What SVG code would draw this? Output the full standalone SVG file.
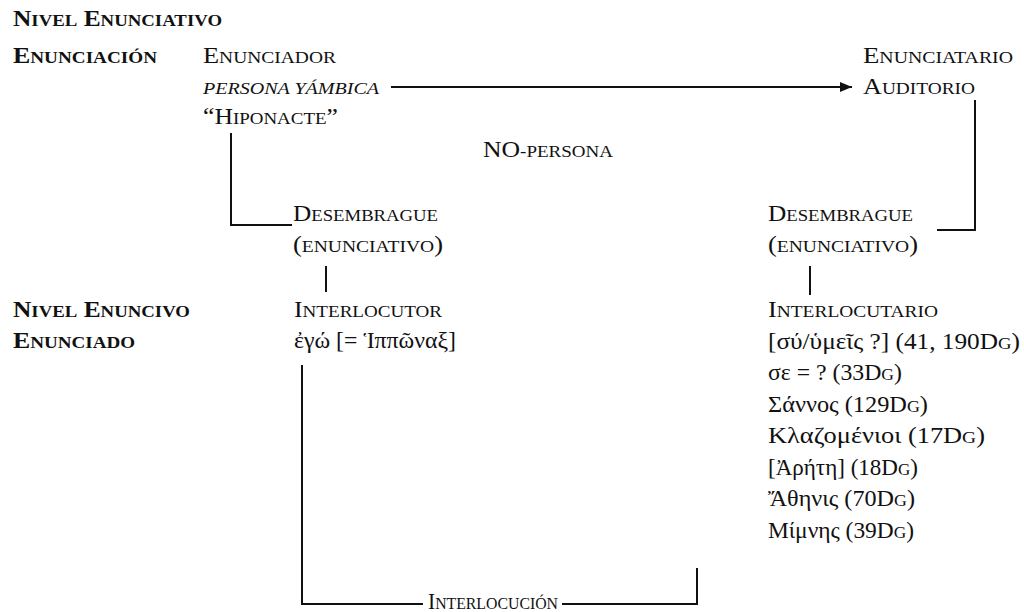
<svg xmlns="http://www.w3.org/2000/svg" width="1024" height="612" viewBox="0 0 1024 612">
  <style>
    text { font-family: "Liberation Serif", "DejaVu Serif", serif; font-size: 23px; fill: #111; }
    .b { font-weight: bold; }
    .sc { font-size: 17px; }
    .it { font-style: italic; }
    .ln { fill: none; stroke: #111; stroke-width: 2; }
  </style>
  <defs>
    <marker id="head" viewBox="0 0 12 10" refX="12" refY="5" markerWidth="12" markerHeight="10" markerUnits="userSpaceOnUse" orient="auto">
      <path d="M0,0 L12,5 L0,10 Z" fill="#111"/>
    </marker>
  </defs>
  <rect width="1024" height="612" fill="#fff"/>

  <!-- connectors -->
  <g id="connectors">
    <path class="ln" d="M391,87 H852" marker-end="url(#head)"/>
    <path class="ln" d="M231,133 V225 H292"/>
    <path class="ln" d="M975,100 V230 H937"/>
    <path class="ln" d="M326,266 V292"/>
    <path class="ln" d="M810,266 V295"/>
    <path class="ln" d="M302,365 V604 H423"/>
    <path class="ln" d="M562,604 H697 V568"/>
  </g>

  <!-- enunciative level -->
  <g id="nivel-enunciativo">
    <text class="b" x="13" y="26" textLength="209" lengthAdjust="spacingAndGlyphs">N<tspan class="sc">IVEL</tspan> E<tspan class="sc">NUNCIATIVO</tspan></text>
    <text class="b" x="13" y="63" textLength="144" lengthAdjust="spacingAndGlyphs">E<tspan class="sc">NUNCIACIÓN</tspan></text>
  </g>

  <g id="enunciador">
    <text x="203" y="63" textLength="133" lengthAdjust="spacingAndGlyphs">E<tspan class="sc">NUNCIADOR</tspan></text>
    <text class="it sc" x="203" y="94" textLength="176" lengthAdjust="spacingAndGlyphs">PERSONA YÁMBICA</text>
    <text x="203" y="124" textLength="135" lengthAdjust="spacingAndGlyphs">“H<tspan class="sc">IPONACTE</tspan>”</text>
  </g>

  <g id="enunciatario">
    <text x="863" y="63" textLength="150" lengthAdjust="spacingAndGlyphs">E<tspan class="sc">NUNCIATARIO</tspan></text>
    <text x="863" y="94" textLength="112" lengthAdjust="spacingAndGlyphs">A<tspan class="sc">UDITORIO</tspan></text>
  </g>

  <g id="no-persona">
    <text x="483" y="157" textLength="130" lengthAdjust="spacingAndGlyphs">NO<tspan class="sc">-PERSONA</tspan></text>
  </g>

  <g id="desembrague-izq">
    <text x="293" y="221" textLength="145" lengthAdjust="spacingAndGlyphs">D<tspan class="sc">ESEMBRAGUE</tspan></text>
    <text x="293" y="252" textLength="150" lengthAdjust="spacingAndGlyphs">(<tspan class="sc">ENUNCIATIVO</tspan>)</text>
  </g>

  <g id="desembrague-der">
    <text x="768" y="221" textLength="145" lengthAdjust="spacingAndGlyphs">D<tspan class="sc">ESEMBRAGUE</tspan></text>
    <text x="768" y="252" textLength="150" lengthAdjust="spacingAndGlyphs">(<tspan class="sc">ENUNCIATIVO</tspan>)</text>
  </g>

  <!-- enunciative statement level -->
  <g id="nivel-enuncivo">
    <text class="b" x="13" y="317" textLength="177" lengthAdjust="spacingAndGlyphs">N<tspan class="sc">IVEL</tspan> E<tspan class="sc">NUNCIVO</tspan></text>
    <text class="b" x="13" y="348" textLength="122" lengthAdjust="spacingAndGlyphs">E<tspan class="sc">NUNCIADO</tspan></text>
  </g>

  <g id="interlocutor">
    <text x="294" y="317" textLength="148" lengthAdjust="spacingAndGlyphs">I<tspan class="sc">NTERLOCUTOR</tspan></text>
    <text x="294" y="348" textLength="162" lengthAdjust="spacingAndGlyphs">ἐγώ [= Ἱππῶναξ]</text>
  </g>

  <g id="interlocutario">
    <text x="768" y="317" textLength="170" lengthAdjust="spacingAndGlyphs">I<tspan class="sc">NTERLOCUTARIO</tspan></text>
    <text x="768" y="349" textLength="252" lengthAdjust="spacingAndGlyphs">[σύ/ὑμεῖς ?] (41, 190D<tspan class="sc">G</tspan>)</text>
    <text x="768" y="380" textLength="134" lengthAdjust="spacingAndGlyphs">σε = ? (33D<tspan class="sc">G</tspan>)</text>
    <text x="768" y="412" textLength="160" lengthAdjust="spacingAndGlyphs">Σάννος (129D<tspan class="sc">G</tspan>)</text>
    <text x="768" y="443" textLength="217" lengthAdjust="spacingAndGlyphs">Κλαζομένιοι (17D<tspan class="sc">G</tspan>)</text>
    <text x="768" y="475" textLength="150" lengthAdjust="spacingAndGlyphs">[Ἀρήτη] (18D<tspan class="sc">G</tspan>)</text>
    <text x="768" y="506" textLength="147" lengthAdjust="spacingAndGlyphs">Ἄθηνις (70D<tspan class="sc">G</tspan>)</text>
    <text x="768" y="538" textLength="146" lengthAdjust="spacingAndGlyphs">Μίμνης (39D<tspan class="sc">G</tspan>)</text>
  </g>

  <g id="interlocucion">
    <text x="428" y="609" textLength="130" lengthAdjust="spacingAndGlyphs">I<tspan class="sc">NTERLOCUCIÓN</tspan></text>
  </g>
</svg>
